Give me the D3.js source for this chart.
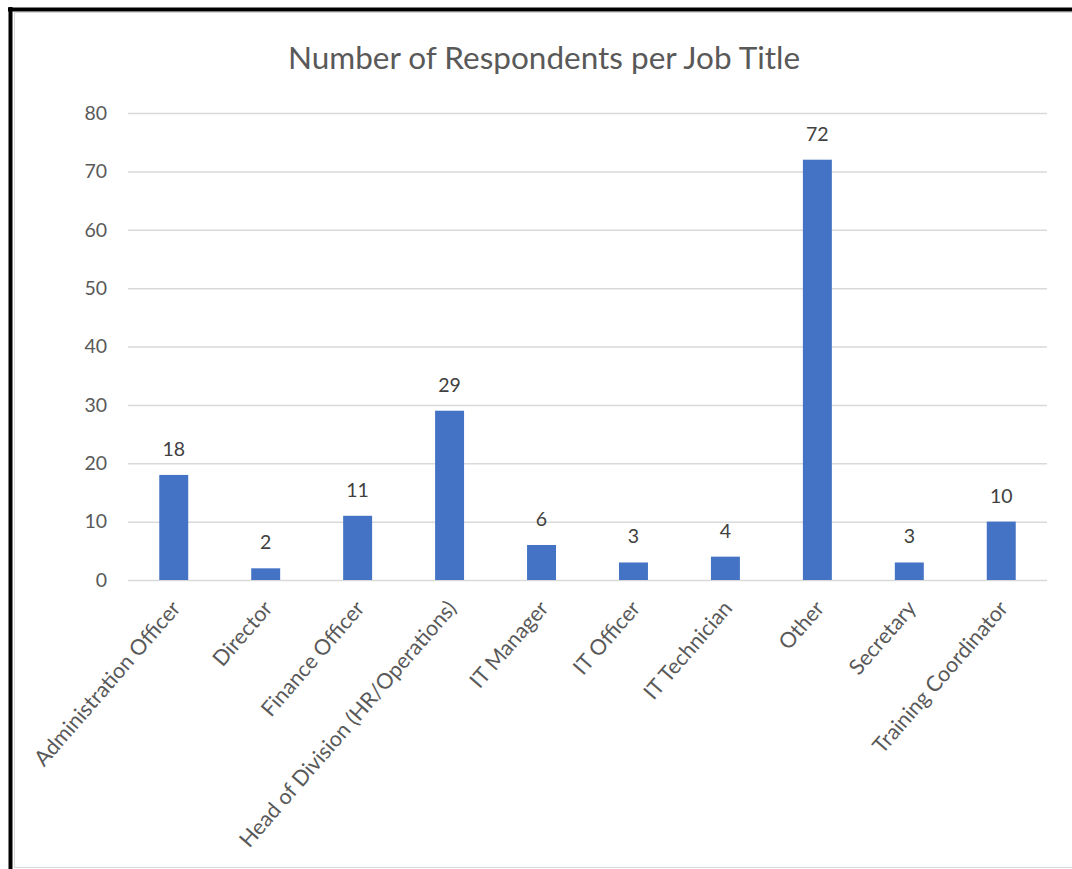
<!DOCTYPE html>
<html><head><meta charset="utf-8">
<script src="https://cdn.jsdelivr.net/npm/d3@7"></script>
<style>body{margin:0;background:#fff}svg{display:block}</style>
</head><body><svg id="c" width="1072" height="869"></svg>
<script>
const categories = ["Administration Officer","Director","Finance Officer","Head of Division (HR/Operations)","IT Manager","IT Officer","IT Technician","Other","Secretary","Training Coordinator"];
const values = [18,2,11,29,6,3,4,72,3,10];
const yTicks = [0,10,20,30,40,50,60,70,80];
const title = "Number of Respondents per Job Title";

const svg = d3.select("#c");
const font = "Lato, 'Open Sans', sans-serif";
// frame
svg.append("rect").attr("x",0).attr("y",0).attr("width",1072).attr("height",869).attr("fill","#fff");
svg.append("rect").attr("x",14.5).attr("y",12.5).attr("width",1070).attr("height",855).attr("fill","none").attr("stroke","#d9d9d9");
svg.append("line").attr("x1",10.5).attr("x2",10.5).attr("y1",7).attr("y2",869).attr("stroke","#000").attr("stroke-width",4);
svg.append("line").attr("x1",8).attr("x2",1072).attr("y1",9.5).attr("y2",9.5).attr("stroke","#000").attr("stroke-width",4);

const x = d3.scaleBand().domain(categories).range([128,1047]).paddingInner(0.685).paddingOuter(0.34);
const y = d3.scaleLinear().domain([0,80]).range([580,113]);

const g = svg.append("g");
g.selectAll("line.grid").data(yTicks).join("line").attr("class","grid")
  .attr("x1",128).attr("x2",1047).attr("y1",d=>y(d)+0.5).attr("y2",d=>y(d)+0.5)
  .attr("stroke","#d9d9d9").attr("stroke-width",1.5);

const yAxis = svg.append("g").attr("transform","translate(128,0)")
  .call(d3.axisLeft(y).tickValues(yTicks).tickSize(0).tickPadding(21));
yAxis.select(".domain").remove();
yAxis.selectAll("text").attr("font-family",font).attr("font-size",19.5).attr("fill","#595959");

g.selectAll("rect.bar").data(values).join("rect").attr("class","bar")
  .attr("x",(d,i)=>x(categories[i])).attr("width",x.bandwidth())
  .attr("y",d=>y(d)).attr("height",d=>y(0)-y(d)).attr("fill","#4472c4");

g.selectAll("text.lbl").data(values).join("text").attr("class","lbl")
  .attr("x",(d,i)=>x(categories[i])+x.bandwidth()/2).attr("y",d=>y(d)-19)
  .attr("text-anchor","middle").attr("font-family",font).attr("font-size",19.5).attr("fill","#404040")
  .text(d=>d);

const xAxis = svg.append("g").attr("transform","translate(0,580)")
  .call(d3.axisBottom(x).tickSize(0).tickPadding(0));
xAxis.select(".domain").remove();
xAxis.selectAll("text").attr("font-family",font).attr("font-size",21.5).attr("fill","#595959")
  .attr("text-anchor","end").attr("dy",0)
  .attr("transform","translate(8,29) rotate(-49)");

svg.append("text").attr("x",544).attr("y",69).attr("text-anchor","middle")
  .attr("font-family",font).attr("font-size",31.5).attr("fill","#595959").text(title);
</script></body></html>
